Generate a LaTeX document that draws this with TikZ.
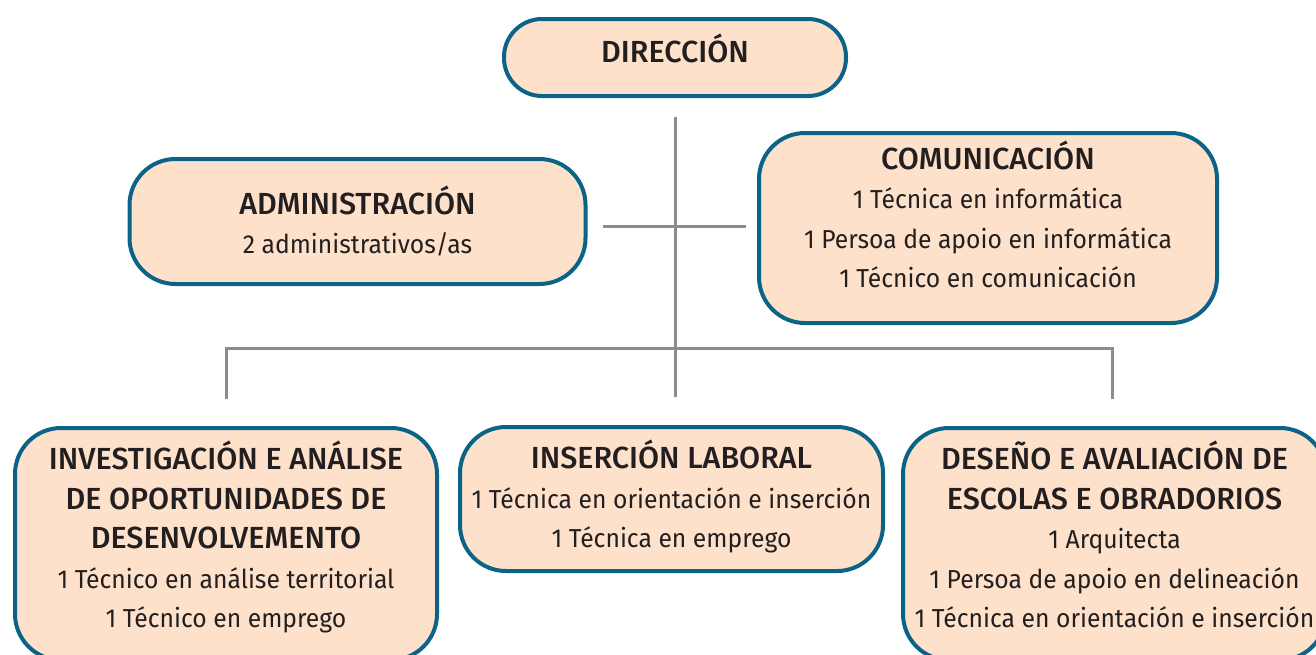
\documentclass[tikz,border=0pt]{standalone}
\usepackage{fontspec}
\setmainfont{Fira Sans}[FakeStretch=0.95]
\newfontfamily\ttlfont{Fira Sans Medium}
\usetikzlibrary{calc}
\definecolor{unitblue}{HTML}{0B6487}
\definecolor{unitfill}{HTML}{FDE1CA}
\definecolor{linkgray}{HTML}{8C8C8E}
\definecolor{unittext}{HTML}{231F20}
\newcommand{\ttl}[1]{{\ttlfont\fontsize{30.5}{39.5}\selectfont #1}}
\tikzset{
	unit/.style={draw=unitblue, line width=4pt, fill=unitfill, rounded corners=46pt,
		align=center, inner sep=0pt, text=unittext, font=\fontsize{26}{39.5}\selectfont},
	link/.style={draw=linkgray, line width=3pt},
}

\begin{document}
\begin{tikzpicture}[x=1pt, y=-1pt]
		%%%%% FRAME %%%%%
		\useasboundingbox (0, 0) rectangle (1316, 654);
		
		%%%%% CONNECTORS %%%%%
		\coordinate (trunktop) at (675, 117);
		\coordinate (trunkbot) at (675, 397);
		\coordinate (staffl) at (603, 226);
		\coordinate (staffr) at (746, 226);
		\coordinate (barl) at (226, 348);
		\coordinate (barr) at (1112, 348);
		\coordinate (dropl) at (226, 399);
		\coordinate (dropr) at (1112, 399);
		
		\draw[link] (trunktop) -- (trunkbot);
		\draw[link] (staffl) -- (staffr);
		\draw[link] (dropl) -- (barl) -- (barr) -- (dropr);
		
		%%%%% UNITS %%%%%
		\node[unit, rounded corners=38pt, minimum width=342, minimum height=77, text depth=18] (dir) at (675, 57.5) {\ttl{DIRECCIÓN}};
		
		\node[unit, minimum width=456, minimum height=125, text depth=3.5] (adm) at (357.5, 221.5)
			{\ttl{ADMINISTRACIÓN}\\2 administrativos/as};
		\node[unit, minimum width=458, minimum height=190, text depth=27.5] (com) at (988, 228)
			{\ttl{COMUNICACIÓN}\\1 Técnica en informática\\1 Persoa de apoio en informática\\1 Técnico en comunicación};
		
		\node[unit, minimum width=422, minimum height=232, text depth=19] (inv) at (226, 544)
			{\ttl{INVESTIGACIÓN E ANÁLISE}\\\ttl{DE OPORTUNIDADES DE}\\\ttl{DESENVOLVEMENTO}\\1 Técnico en análise territorial\\1 Técnico en emprego};
		\node[unit, minimum width=423, minimum height=144, text depth=10] (ins) at (671.5, 499)
			{\ttl{INSERCIÓN LABORAL}\\1 Técnica en orientación e inserción\\1 Técnica en emprego};
		\node[unit, minimum width=423, minimum height=232, text depth=19] (des) at (1114.5, 544)
			{\ttl{DESEÑO E AVALIACIÓN DE}\\\ttl{ESCOLAS E OBRADORIOS}\\1 Arquitecta\\1 Persoa de apoio en delineación\\1 Técnica en orientación e inserción};
		
	\end{tikzpicture}
\end{document}
